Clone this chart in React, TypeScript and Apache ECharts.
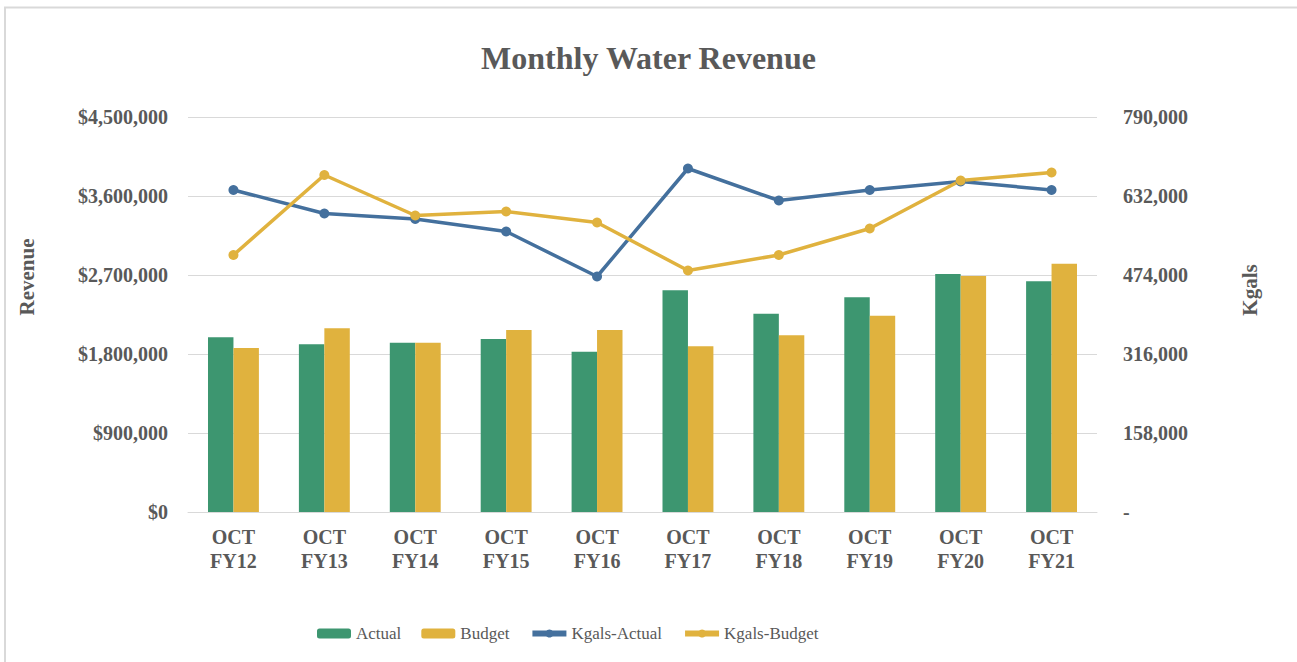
import React, { useEffect, useRef } from "react";
import * as echarts from "echarts";

const categories = ["OCT\nFY12", "OCT\nFY13", "OCT\nFY14", "OCT\nFY15", "OCT\nFY16", "OCT\nFY17", "OCT\nFY18", "OCT\nFY19", "OCT\nFY20", "OCT\nFY21"];
const actual = [1990000, 1910000, 1929000, 1971000, 1826000, 2526000, 2259000, 2446000, 2711000, 2628000];
const budget = [1868000, 2093000, 1929000, 2073000, 2073000, 1888000, 2013000, 2237000, 2689000, 2829000];
const kgalsActual = [644000, 597000, 586000, 561000, 471000, 687000, 623000, 644000, 661000, 644000];
const kgalsBudget = [514000, 674000, 593000, 601000, 579000, 483000, 514000, 567000, 663000, 679000];

const FONT = "'Liberation Serif', 'DejaVu Serif', serif";
const TEXT = "#595959";
const GREEN = "#3d9670";
const GOLD = "#e0b23e";
const BLUE = "#44709d";

const fmt = (v: number) => v.toLocaleString("en-US");

export default function App() {
  const ref = useRef<HTMLDivElement>(null);
  useEffect(() => {
    document.body.style.margin = "0";
    const chart = echarts.init(ref.current!, null, { renderer: "svg" });
    chart.setOption({
      animation: false,
      backgroundColor: "#ffffff",
      title: {
        text: "Monthly Water Revenue",
        left: "center",
        top: 37,
        textStyle: { fontFamily: FONT, fontSize: 32, fontWeight: "bold", color: TEXT },
      },
      grid: { left: 188, right: 200, top: 117, bottom: 150 },
      legend: {
        left: 312,
        top: 620,
        itemWidth: 34,
        itemHeight: 10,
        itemGap: 20,
        lineStyle: { width: 6 },
        textStyle: { fontFamily: FONT, fontSize: 17, color: TEXT },
        data: ["Actual", "Budget", "Kgals-Actual", "Kgals-Budget"],
      },
      graphic: [
        { type: "line", shape: { x1: 4, y1: 7.5, x2: 1297, y2: 7.5 }, style: { stroke: "#d9d9d9", lineWidth: 2 } },
        { type: "line", shape: { x1: 5, y1: 7, x2: 5, y2: 662 }, style: { stroke: "#d9d9d9", lineWidth: 2 } },
        {
          type: "text",
          x: 27,
          y: 277,
          rotation: Math.PI / 2,
          style: { text: "Revenue", fontFamily: FONT, fontSize: 21, fontWeight: "bold", fill: TEXT, align: "center", verticalAlign: "middle" },
        },
        {
          type: "text",
          x: 1250,
          y: 290,
          rotation: Math.PI / 2,
          style: { text: "Kgals", fontFamily: FONT, fontSize: 21, fontWeight: "bold", fill: TEXT, align: "center", verticalAlign: "middle" },
        },
      ],
      xAxis: {
        type: "category",
        data: categories,
        axisLine: { lineStyle: { color: "#d9d9d9", width: 1 } },
        axisTick: { show: false },
        axisLabel: { fontFamily: FONT, fontSize: 20, fontWeight: "bold", color: TEXT, lineHeight: 24, margin: 13 },
      },
      yAxis: [
        {
          type: "value",
          min: 0,
          max: 4500000,
          interval: 900000,
          axisLine: { show: false },
          axisTick: { show: false },
          splitLine: { lineStyle: { color: "#d9d9d9" } },
          axisLabel: { fontFamily: FONT, fontSize: 20, fontWeight: "bold", color: TEXT, margin: 20, formatter: (v: number) => "$" + fmt(v) },
        },
        {
          type: "value",
          min: 0,
          max: 790000,
          interval: 158000,
          axisLine: { show: false },
          axisTick: { show: false },
          splitLine: { show: false },
          axisLabel: { fontFamily: FONT, fontSize: 20, fontWeight: "bold", color: TEXT, margin: 26, formatter: (v: number) => (v === 0 ? "-" : fmt(v)) },
        },
      ],
      series: [
        { name: "Actual", type: "bar", data: actual, itemStyle: { color: GREEN }, barGap: "0%", barCategoryGap: "44%" },
        { name: "Budget", type: "bar", data: budget, itemStyle: { color: GOLD }, barGap: "0%", barCategoryGap: "44%" },
        {
          name: "Kgals-Actual",
          type: "line",
          yAxisIndex: 1,
          data: kgalsActual,
          symbol: "circle",
          symbolSize: 10,
          lineStyle: { color: BLUE, width: 3.5 },
          itemStyle: { color: BLUE },
        },
        {
          name: "Kgals-Budget",
          type: "line",
          yAxisIndex: 1,
          data: kgalsBudget,
          symbol: "circle",
          symbolSize: 10,
          lineStyle: { color: GOLD, width: 3.5 },
          itemStyle: { color: GOLD },
        },
      ],
    });
    return () => chart.dispose();
  }, []);
  return <div ref={ref} style={{ width: 1297, height: 662 }} />;
}
